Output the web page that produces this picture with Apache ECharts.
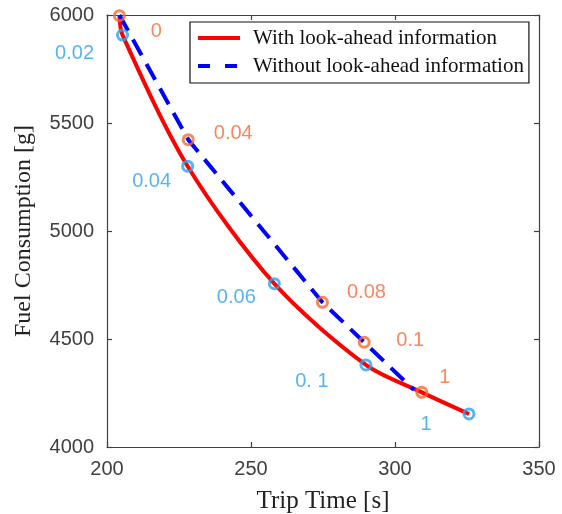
<!DOCTYPE html>
<html>
<head>
<meta charset="utf-8">
<script src="https://cdn.jsdelivr.net/npm/echarts@6/dist/echarts.min.js"></script>
<style>html,body{margin:0;padding:0;background:#fff}#c{width:562px;height:514px}</style>
</head>
<body>
<div id="c"></div>
<script>
// ---- data ----
const withTime = [204.3, 205.4, 228.0, 258.1, 289.9, 309.3, 325.7];
const withFuel = [6000, 5907, 5300, 4756, 4380, 4253, 4153];
const withoutTime = [204.3, 228.2, 274.8, 289.3, 306.5];
const withoutFuel = [6000, 5423, 4670, 4485, 4265];
const orangeTime = [204.3, 228.2, 274.8, 289.3, 309.3];
const orangeFuel = [5997, 5423, 4670, 4485, 4253];
const orangeLabels = ['0', '0.04', '0.08', '0.1', '1'];
const blueTime = [205.4, 228.0, 258.1, 289.9, 325.7];
const blueFuel = [5907, 5300, 4756, 4380, 4153];
const blueLabels = ['0.02', '0.04', '0.06', '0. 1', '1'];
const seriesNames = ['With look-ahead information', 'Without look-ahead information'];
const xTitle = 'Trip Time [s]';
const yTitle = 'Fuel Consumption [g]';

// ---- layout/style (not data) ----
const orangeOffsets = [[37, 16], [45, -6], [44, -10], [46, -2], [23, -15]];
const blueOffsets = [[-48, 18], [-36, 15], [-38, 14], [-54, 17], [-43, 11]];
const ORANGE = '#f26a36';
const BLUE = '#2aa2ee';
const AX = '#404040';
const DASH = [12, 15];

function pairs(xs, ys) { return xs.map((x, i) => [x, ys[i]]); }
function markerData(xs, ys, labels, offs) {
  return xs.map((x, i) => ({
    value: [x, ys[i]],
    label: { formatter: labels[i], offset: offs[i] }
  }));
}

const chart = echarts.init(document.getElementById('c'), null, { renderer: 'canvas' });
const axisCommon = {
  axisLine: { show: true, onZero: false, lineStyle: { color: AX, width: 1.2 } },
  axisTick: { show: true, inside: true, length: 5, lineStyle: { color: AX, width: 1.2 } },
  splitLine: { show: false }
};
const noSep = v => String(v);
const hidden = { color: 'rgba(0,0,0,0)', borderColor: 'rgba(0,0,0,0)', borderWidth: 0, opacity: 0 };
chart.setOption({
  animation: false,
  backgroundColor: '#fff',
  grid: { left: 107, top: 15, right: 23, bottom: 67, containLabel: false, outerBoundsMode: 'none' },
  xAxis: [
    Object.assign({
      type: 'value', min: 200, max: 350, interval: 50, position: 'bottom',
      name: xTitle, nameLocation: 'middle', nameGap: 42,
      nameTextStyle: { fontFamily: 'Liberation Serif', fontSize: 25, color: '#222' },
      axisLabel: { fontFamily: 'Liberation Sans', fontSize: 20, color: AX, margin: 12, formatter: noSep }
    }, axisCommon),
    Object.assign({
      type: 'value', min: 200, max: 350, interval: 50, position: 'top',
      axisLabel: { show: false }
    }, axisCommon)
  ],
  yAxis: [
    Object.assign({
      type: 'value', min: 4000, max: 6000, interval: 500, position: 'left',
      name: yTitle, nameLocation: 'middle', nameGap: 71,
      nameTextStyle: { fontFamily: 'Liberation Serif', fontSize: 24, color: '#222' },
      axisLabel: { fontFamily: 'Liberation Sans', fontSize: 20, color: AX, margin: 13, formatter: noSep }
    }, axisCommon),
    Object.assign({
      type: 'value', min: 4000, max: 6000, interval: 500, position: 'right',
      axisLabel: { show: false }
    }, axisCommon)
  ],
  legend: {
    orient: 'vertical', left: 190, top: 22,
    data: [
      { name: seriesNames[0], itemStyle: hidden, lineStyle: { color: '#ff0000', width: 4, type: 'solid' } },
      { name: seriesNames[1], itemStyle: hidden, lineStyle: { color: '#0000ff', width: 4, type: DASH } }
    ],
    backgroundColor: '#fff', borderColor: '#111', borderWidth: 1.2,
    padding: [5, 5, 6, 6], itemGap: 6, itemWidth: 42, itemHeight: 14,
    textStyle: { fontFamily: 'Liberation Serif', fontSize: 21, color: '#111', padding: [0, 0, 0, 8], lineHeight: 22 }
  },
  series: [
    {
      name: seriesNames[0], type: 'line', data: pairs(withTime, withFuel),
      smooth: 0.3, showSymbol: false, symbol: 'none',
      lineStyle: { color: '#ff0000', width: 4 }, itemStyle: { color: '#ff0000' }, z: 2
    },
    {
      name: seriesNames[1], type: 'line', data: pairs(withoutTime, withoutFuel),
      showSymbol: false, symbol: 'none',
      lineStyle: { color: '#0000ff', width: 4, type: [18, 10] }, itemStyle: { color: '#0000ff' }, z: 3
    },
    {
      type: 'scatter', data: markerData(orangeTime, orangeFuel, orangeLabels, orangeOffsets),
      symbol: 'circle', symbolSize: 10, clip: false, z: 4,
      itemStyle: { color: 'rgba(0,0,0,0)', borderColor: ORANGE, borderWidth: 3 },
      label: { show: true, position: 'inside', align: 'center', verticalAlign: 'middle',
        fontFamily: 'Liberation Sans', fontSize: 20, color: ORANGE }
    },
    {
      type: 'scatter', data: markerData(blueTime, blueFuel, blueLabels, blueOffsets),
      symbol: 'circle', symbolSize: 10, clip: false, z: 4,
      itemStyle: { color: 'rgba(0,0,0,0)', borderColor: BLUE, borderWidth: 3 },
      label: { show: true, position: 'inside', align: 'center', verticalAlign: 'middle',
        fontFamily: 'Liberation Sans', fontSize: 20, color: BLUE }
    }
  ]
});
</script>
</body>
</html>
